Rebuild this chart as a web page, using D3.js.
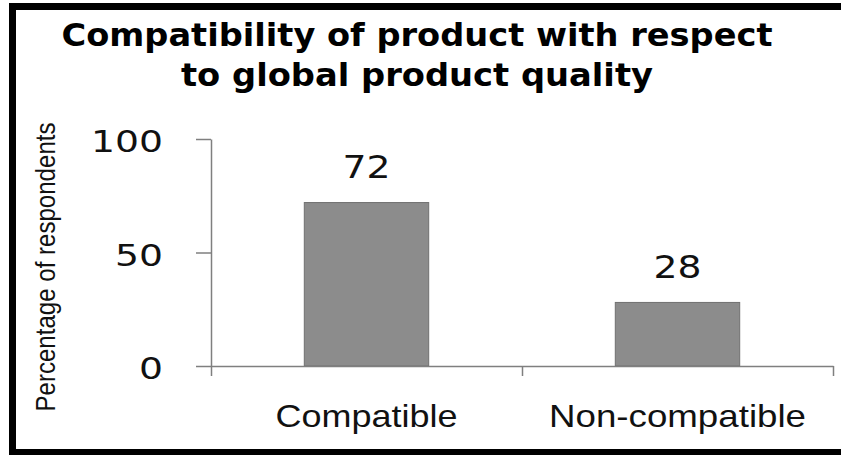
<!DOCTYPE html>
<html>
<head>
<meta charset="utf-8">
<script src="https://cdn.jsdelivr.net/npm/d3@7"></script>
<style>
  html, body { margin: 0; padding: 0; background: #fff; }
  svg { display: block; }
</style>
</head>
<body>
<div id="chart"></div>
<script>
'use strict';
// data
const categories = ["Compatible", "Non-compatible"];
const percentages = [72, 28];
const yTicks = [0, 50, 100];
const titleLines = ["Compatibility of product with respect", "to global product quality"];
const yLabel = "Percentage of respondents";

const width = 841, height = 455;

// text widths as they appear in the picture (the original is stretched sideways)
const titleWidths = [711, 472];
const catLabelWidth = {"Compatible": 182, "Non-compatible": 257};

const svg = d3.select("#chart")
  .append("svg")
  .attr("width", width)
  .attr("height", height);

svg.append("rect")
  .attr("width", width)
  .attr("height", height)
  .attr("fill", "#fff");

// black frame, right side is cut off in the original
svg.append("rect")
  .attr("x", 12.5)
  .attr("y", 6.5)
  .attr("width", 900)
  .attr("height", 446)
  .attr("fill", "none")
  .attr("stroke", "#000")
  .attr("stroke-width", 7);

// title
svg.selectAll("text.title")
  .data(titleLines)
  .enter()
  .append("text")
  .attr("class", "title")
  .attr("x", 417)
  .attr("y", (d, i) => 46 + i * 40)
  .attr("text-anchor", "middle")
  .attr("textLength", (d, i) => titleWidths[i])
  .attr("lengthAdjust", "spacingAndGlyphs")
  .style("font-family", "'DejaVu Sans', Verdana, sans-serif")
  .style("font-weight", "bold")
  .style("font-size", "32px")
  .style("fill", "#000")
  .text(d => d);

const y = d3.scaleLinear()
  .domain([0, 100])
  .range([366, 139]);

const x = d3.scaleBand()
  .domain(categories)
  .range([211, 833])
  .paddingInner(0.6)
  .paddingOuter(0.3);

// bars
svg.selectAll("rect.bar")
  .data(percentages)
  .enter()
  .append("rect")
  .attr("class", "bar")
  .attr("x", (d, i) => x(categories[i]))
  .attr("y", d => y(d))
  .attr("width", x.bandwidth())
  .attr("height", d => y(0) - y(d))
  .attr("fill", "#8c8c8c")
  .attr("stroke", "#707070")
  .attr("stroke-width", 1);

// value labels
svg.selectAll("text.value")
  .data(percentages)
  .enter()
  .append("text")
  .attr("class", "value")
  .attr("x", (d, i) => x(categories[i]) + x.bandwidth() / 2)
  .attr("y", d => y(d) - 24.5)
  .attr("text-anchor", "middle")
  .attr("textLength", d => String(d).length * 24)
  .attr("lengthAdjust", "spacingAndGlyphs")
  .style("font-family", "'DejaVu Sans', Verdana, sans-serif")
  .style("font-size", "32px")
  .style("fill", "#111")
  .text(d => d);

// y axis
const yAxis = svg.append("g")
  .attr("transform", "translate(211,0)")
  .call(d3.axisLeft(y).tickValues(yTicks).tickSize(15).tickSizeOuter(0).tickPadding(33));

yAxis.selectAll("path, line")
  .attr("stroke", "#7f7f7f")
  .attr("stroke-width", 1.5);

yAxis.selectAll("text")
  .attr("dy", "0.42em")
  .attr("textLength", d => String(d).length * 24)
  .attr("lengthAdjust", "spacingAndGlyphs")
  .style("font-family", "'DejaVu Sans', Verdana, sans-serif")
  .style("font-size", "30px")
  .style("fill", "#111");

// x axis, ticks sit between the categories
const xEdges = d3.scaleLinear()
  .domain([0, categories.length])
  .range(x.range());

const xAxis = svg.append("g")
  .attr("transform", `translate(0,${y(0)})`)
  .call(d3.axisBottom(xEdges)
    .ticks(categories.length)
    .tickFormat("")
    .tickSize(10)
    .tickSizeOuter(0));

xAxis.selectAll("path, line")
  .attr("stroke", "#7f7f7f")
  .attr("stroke-width", 1.5);

// category labels
svg.selectAll("text.cat")
  .data(categories)
  .enter()
  .append("text")
  .attr("class", "cat")
  .attr("x", d => x(d) + x.bandwidth() / 2)
  .attr("y", 427)
  .attr("text-anchor", "middle")
  .attr("textLength", d => catLabelWidth[d])
  .attr("lengthAdjust", "spacingAndGlyphs")
  .style("font-family", "'Liberation Sans', Arial, sans-serif")
  .style("font-size", "32px")
  .style("fill", "#111")
  .text(d => d);

// y axis title
svg.append("text")
  .attr("transform", "translate(55,267) rotate(-90)")
  .attr("text-anchor", "middle")
  .attr("textLength", 289)
  .attr("lengthAdjust", "spacingAndGlyphs")
  .style("font-family", "'Liberation Sans Narrow', 'Arial Narrow', 'Liberation Sans', sans-serif")
  .style("font-size", "28px")
  .style("fill", "#111")
  .text(yLabel);
</script>
</body>
</html>
